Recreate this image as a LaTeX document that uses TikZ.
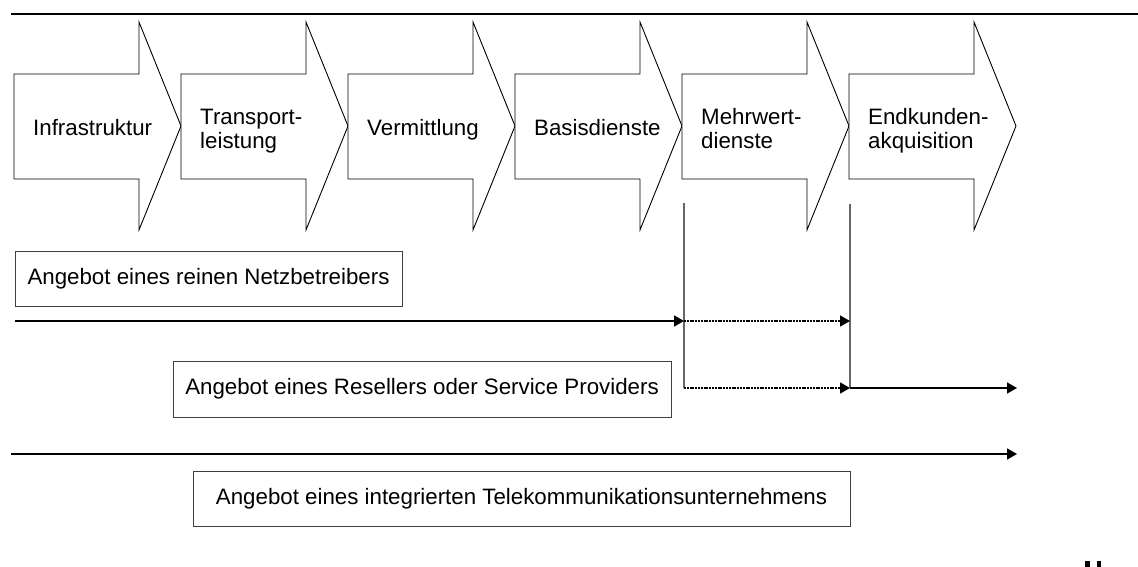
\documentclass[tikz,border=0pt]{standalone}
\usepackage{fontspec}
\setmainfont{Liberation Sans}
\usetikzlibrary{arrows.meta}
\tikzset{
  chev/.style={draw=black, line width=0.9pt, fill=white},
  lbl/.style={anchor=base west, align=left, inner sep=0pt, font=\fontsize{22.3}{23.5}\selectfont},
  offer/.style={draw=black!75, line width=1pt, inner sep=0pt, font=\fontsize{22.3}{24}\selectfont},
  flow/.style={line width=1.6pt, -{Triangle[length=10pt,width=11pt]}},
  dflow/.style={line width=1.6pt, dash pattern=on 2pt off 0.8pt, -{Triangle[length=10pt,width=11pt]}},
  divider/.style={draw=black!60, line width=1.5pt},
}
\begin{document}
\begin{tikzpicture}[x=1pt, y=-1pt]
\useasboundingbox (0,0) rectangle (1138,567);
% top rule
\coordinate (rl) at (11,14);
\coordinate (rr) at (1138,14);
\draw[line width=2.6pt] (rl) -- (rr);
% value chain chevrons
\foreach \L/\n in {14/a1,181/a2,348/a3,515/a4,682/a5,849/a6}{
  \draw[chev] (\L,74) -- ++(125,0) -- ++(0,-52) -- (\L+167,126) -- (\L+125,230) -- ++(0,-51) -- (\L,179) -- cycle;
  \coordinate (\n s) at (\L+19,136);
  \coordinate (\n d) at (\L+19,148.5);
}
\node[lbl] (t1) at (a1s) {Infrastruktur};
\node[lbl] (t2) at (a2d) {Transport-\\leistung};
\node[lbl] (t3) at (a3s) {Vermittlung};
\node[lbl] (t4) at (a4s) {Basisdienste};
\node[lbl] (t5) at (a5d) {Mehrwert-\\dienste};
\node[lbl] (t6) at (a6d) {Endkunden-\\akquisition};
% vertical dividers
\coordinate (v1t) at (684,203);
\coordinate (v1b) at (684,388);
\coordinate (v2t) at (850,204);
\coordinate (v2b) at (850,388);
\draw[divider] (v1t) -- (v1b);
\draw[divider] (v2t) -- (v2b);
% offer boxes
\node[offer, minimum width=387pt, minimum height=55pt] (o1) at (208.5,278.5) {Angebot eines reinen Netzbetreibers};
\node[offer, minimum width=498pt, minimum height=56pt] (o2) at (422,389) {Angebot eines Resellers oder Service Providers};
\node[offer, minimum width=657pt, minimum height=55pt] (o3) at (521.5,498.5) {Angebot eines integrierten Telekommunikationsunternehmens};
% row 1
\coordinate (r1s) at (15,321);
\coordinate (r1m) at (684,321);
\coordinate (r1e) at (850,321);
\draw[flow] (r1s) -- (r1m);
\draw[dflow] (r1m) -- (r1e);
% row 2
\coordinate (r2e) at (1017,388);
\draw[dflow] (v1b) -- (v2b);
\draw[flow] (v2b) -- (r2e);
% row 3
\coordinate (r3s) at (11,454);
\coordinate (r3e) at (1017,454);
\draw[flow] (r3s) -- (r3e);
% cut-off mark bottom right
\fill[black] (1085,561) rectangle (1089.5,567);
\fill[black] (1096.5,561) rectangle (1101,567);
\end{tikzpicture}
\end{document}
